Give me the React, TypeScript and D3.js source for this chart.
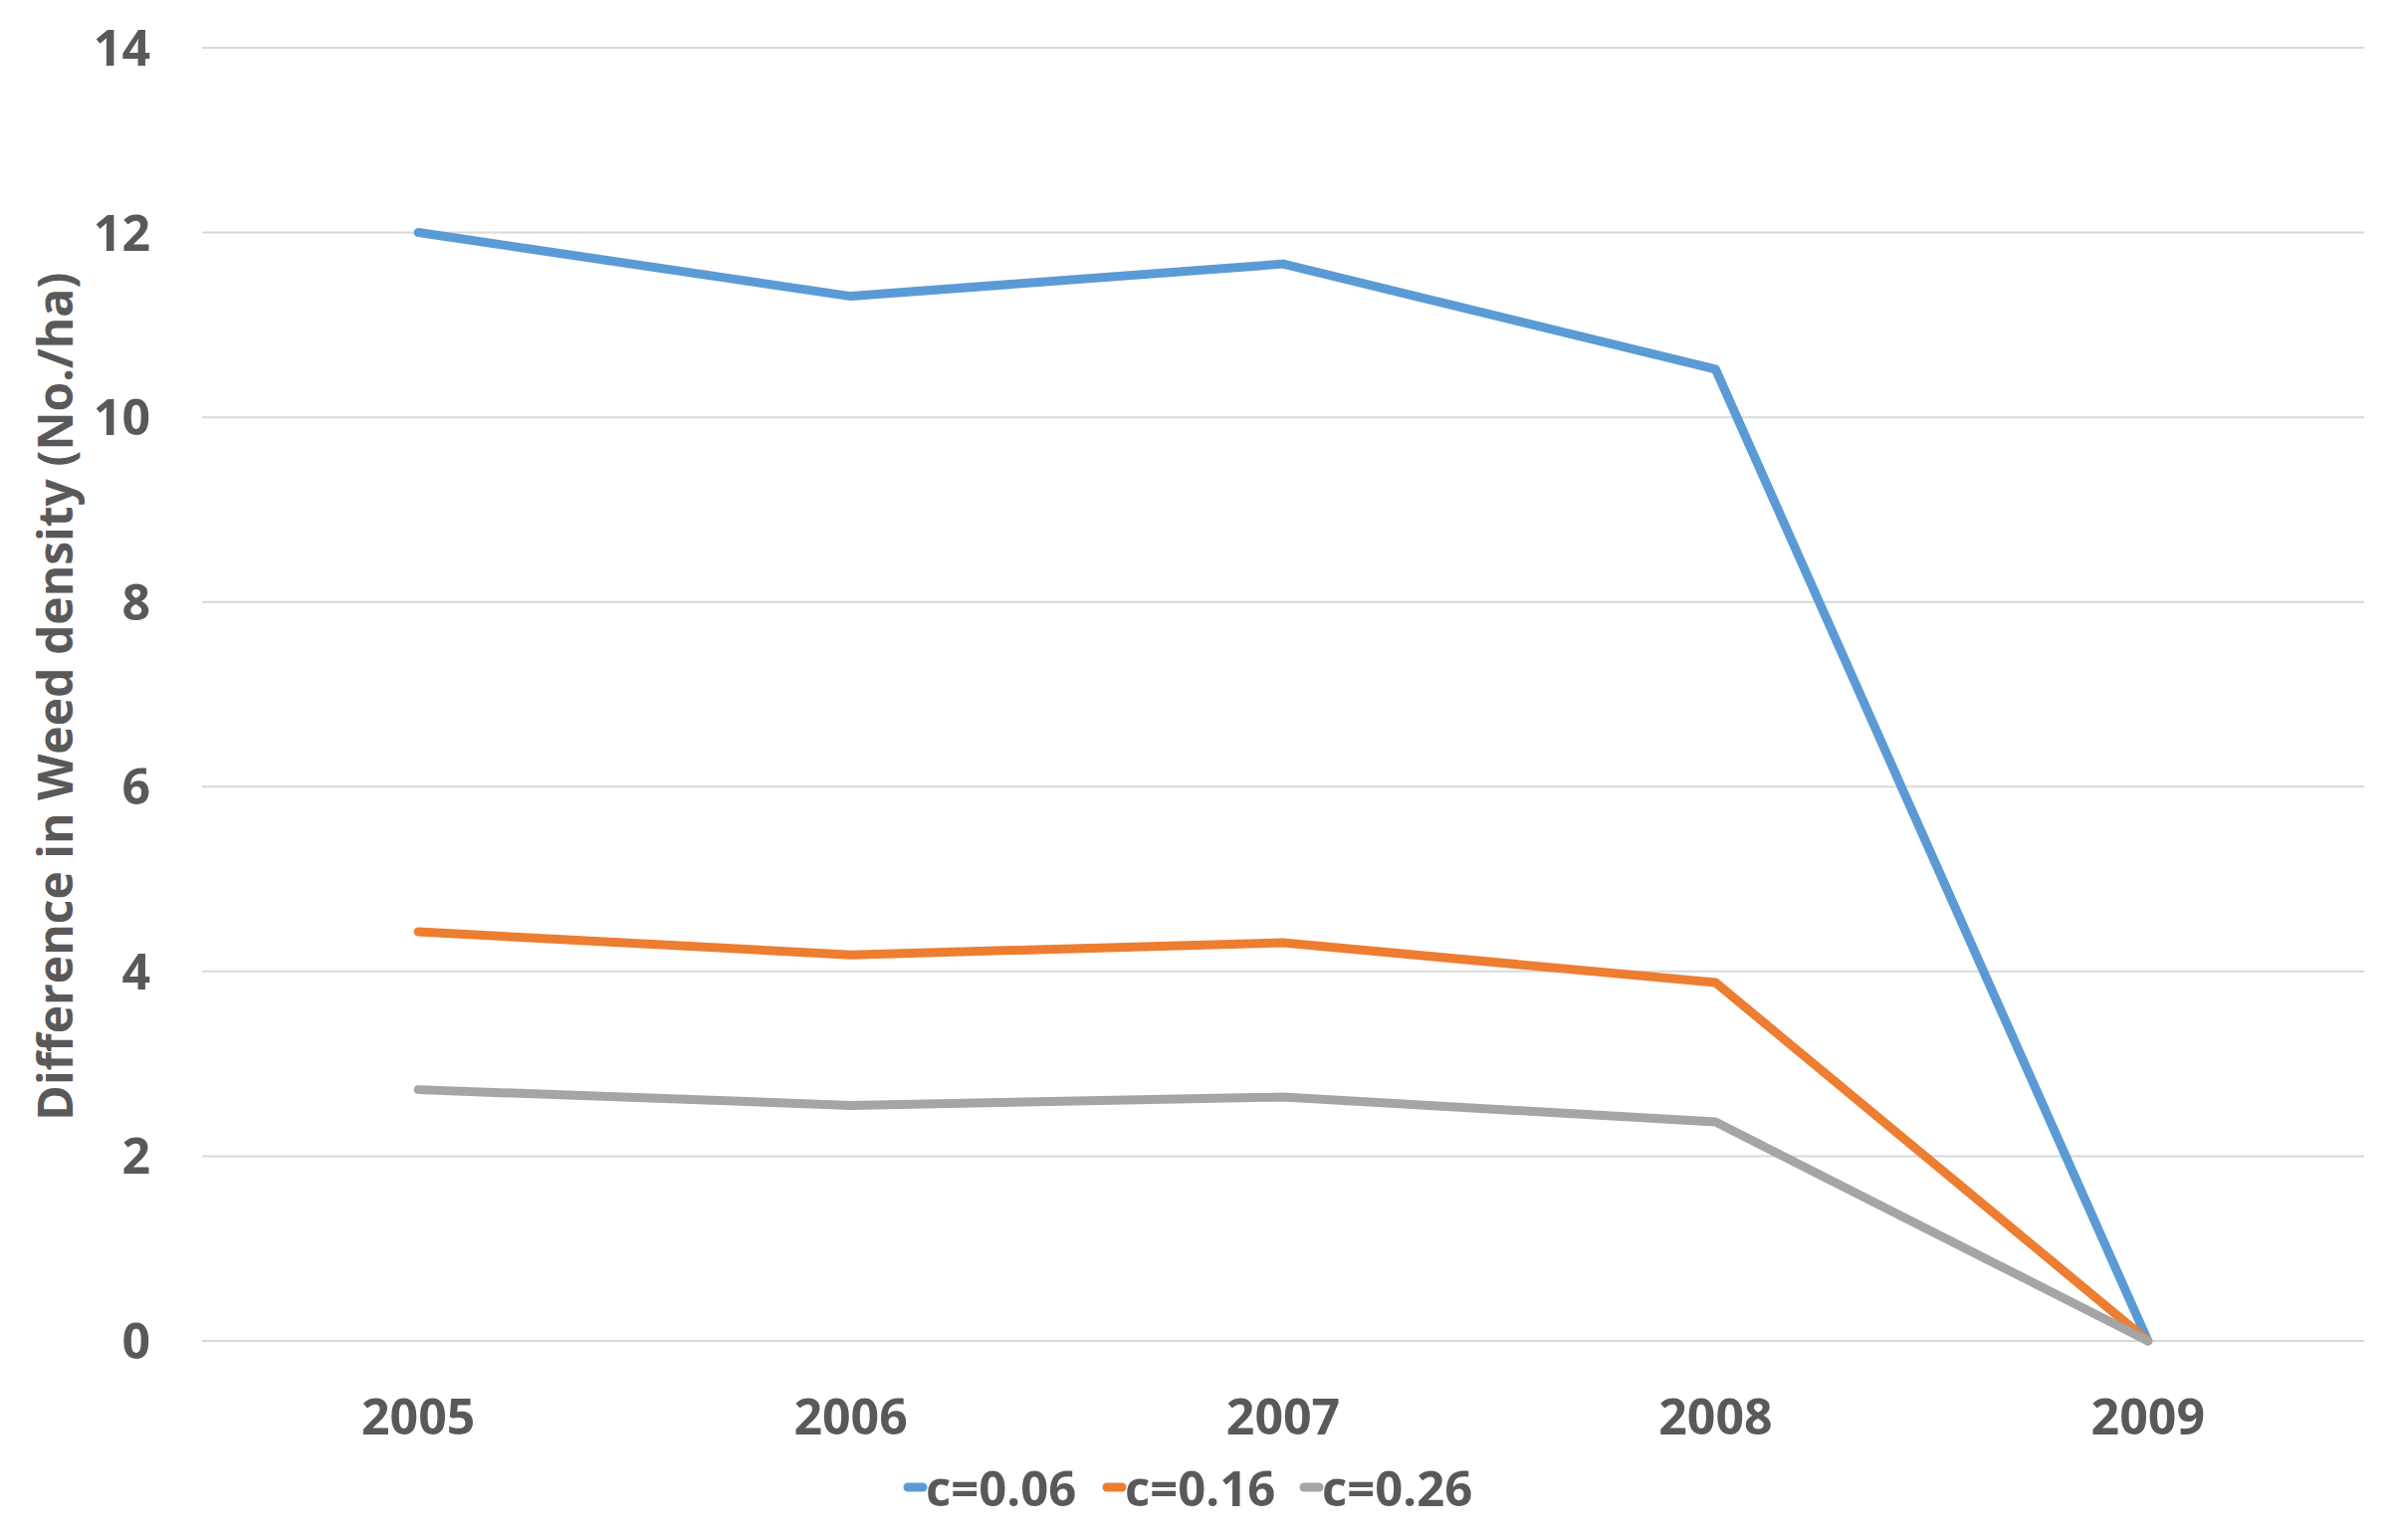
import React from "react";
import * as d3 from "d3";

const categories = ["2005", "2006", "2007", "2008", "2009"];
const seriesNames = ["c=0.06", "c=0.16", "c=0.26"];
const seriesA = [12.0, 11.31, 11.66, 10.52, 0];
const seriesB = [4.43, 4.18, 4.31, 3.88, 0];
const seriesC = [2.72, 2.55, 2.64, 2.37, 0];
const yTicks = [0, 2, 4, 6, 8, 10, 12, 14];
const colors = ["#5B9BD5", "#ED7D31", "#A5A5A5"];

const W = 2415;
const H = 1547;
const left = 203;
const right = 2375;
const top = 48;
const bottom = 1347;
const FONT = "'Open Sans', 'Noto Sans', sans-serif";
const TXT = "#595959";

export default function App() {
  const x = d3.scaleBand().domain(categories).range([left, right]);
  const y = d3.scaleLinear().domain([0, 14]).range([bottom, top]);
  const allSeries = [seriesA, seriesB, seriesC];
  const line = d3
    .line<number>()
    .x((_, i) => (x(categories[i]) as number) + x.bandwidth() / 2)
    .y((d) => y(d));

  const legendX = [907, 1107, 1305];

  return (
    <svg
      width={W}
      height={H}
      style={{ position: "absolute", left: 0, top: 0, background: "#fff" }}
    >
      <rect x={0} y={0} width={W} height={H} fill="#fff" />
      {yTicks.map((t) => (
        <g key={t}>
          <line x1={left} x2={right} y1={y(t)} y2={y(t)} stroke="#D9D9D9" strokeWidth={2} />
          <text
            x={151}
            y={y(t)}
            dy="0.36em"
            textAnchor="end"
            fontFamily={FONT}
            fontWeight={700}
            fontSize={50}
            fill={TXT}
          >
            {t}
          </text>
        </g>
      ))}
      {categories.map((c) => (
        <text
          key={c}
          x={(x(c) as number) + x.bandwidth() / 2}
          y={1441}
          textAnchor="middle"
          fontFamily={FONT}
          fontWeight={700}
          fontSize={50}
          fill={TXT}
        >
          {c}
        </text>
      ))}
      <text
        transform={`translate(73, ${(top + bottom) / 2 + 2}) rotate(-90)`}
        textAnchor="middle"
        fontFamily={FONT}
        fontWeight={700}
        fontSize={48}
        fill={TXT}
      >
        Difference in Weed density (No./ha)
      </text>
      {allSeries.map((s, i) => (
        <path
          key={i}
          d={line(s) || ""}
          fill="none"
          stroke={colors[i]}
          strokeWidth={9}
          strokeLinejoin="round"
          strokeLinecap="round"
        />
      ))}
      {seriesNames.map((n, i) => (
        <g key={n}>
          <line
            x1={legendX[i] + 5}
            x2={legendX[i] + 20}
            y1={1494}
            y2={1494}
            stroke={colors[i]}
            strokeWidth={9}
            strokeLinecap="round"
          />
          <text
            x={legendX[i] + 23}
            y={1513}
            fontFamily={FONT}
            fontWeight={700}
            fontSize={49}
            fill={TXT}
          >
            {n}
          </text>
        </g>
      ))}
    </svg>
  );
}
